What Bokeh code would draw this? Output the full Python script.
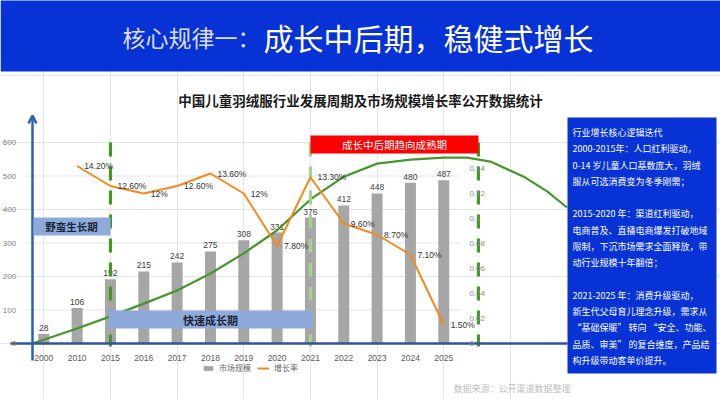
from bokeh.plotting import figure
from bokeh.models import (Range1d, LinearAxis, FixedTicker, BoxAnnotation, Label,
                          Arrow, OpenHead, Legend, LegendItem, ColumnDataSource)
from bokeh.core.properties import value
from bokeh.embed import file_html
from bokeh.resources import INLINE

# ---------------- data ----------------
years = ["2000", "2010", "2015", "2016", "2017", "2018", "2019",
         "2020", "2021", "2022", "2023", "2024", "2025"]
market_size = [28, 106, 192, 215, 242, 275, 308, 331, 376, 412, 448, 480, 487]
rate_years = years[1:]
growth_rate = [0.142, 0.126, 0.12, 0.126, 0.136, 0.12, 0.078, 0.133, 0.096, 0.087, 0.071, 0.015]
growth_labels = ["14.20%", "12.60%", "12%", "12.60%", "13.60%", "12%", "7.80%",
                 "13.30%", "9.60%", "8.70%", "7.10%", "1.50%"]
left_ticks = [0, 100, 200, 300, 400, 500, 600]
right_ticks = [0, 0.02, 0.04, 0.06, 0.08, 0.1, 0.12, 0.14]
right_tick_labels = ["0", "0.02", "0.04", "0.06", "0.08", "0.1", "0.12", "0.14"]

# decorative life-cycle trend curve (category position, value on left axis)
trend_pos = [-0.34, 1, 2, 3, 4, 5, 6, 7, 8, 9, 10, 11, 12, 12.7, 13.4, 14.4, 15.1, 15.7]
trend_val = [0, 45, 81, 119, 158, 209, 269, 338, 430, 498, 537, 549, 555, 555, 543, 498, 454, 406]

phase_names = ["野蛮生长期", "快速成长期", "成长中后期趋向成熟期"]

header_lead = "核心规律一："
header_main = "成长中后期，稳健式增长"
chart_title = "中国儿童羽绒服行业发展周期及市场规模增长率公开数据统计"
legend_labels = ["市场规模", "增长率"]
source_note = "数据来源：公开渠道数据整理"
panel_lines = [
    "行业增长核心逻辑迭代",
    "2000-2015年：人口红利驱动，",
    "0-14 岁儿童人口基数庞大，羽绒",
    "服从可选消费变为冬季刚需；",
    "",
    "2015-2020 年：渠道红利驱动，",
    "电商普及、直播电商爆发打破地域",
    "限制，下沉市场需求全面释放，带",
    "动行业规模十年翻倍；",
    "",
    "2021-2025 年：消费升级驱动，",
    "新生代父母育儿理念升级，需求从",
    "“基础保暖” 转向 “安全、功能、",
    "品质、审美” 的复合维度，产品结",
    "构升级带动客单价提升。",
]

# ---------------- geometry helpers (page pixel -> data) ----------------
W, H = 720, 399
STEP = 33.33          # px per category
CAT0 = 43.3           # page x of first category
BASE = 343.0          # page y of value 0
PXV = 0.335           # px per left-axis unit
RATE_SCALE = 1250.0 / PXV   # left units per rate unit


def dx(px):
    return (px - CAT0) / STEP


def dy(py):
    return (BASE - py) / PXV


X_START, X_END = dx(0), dx(W)
Y_START, Y_END = dy(H), dy(0)

CJK = "Noto Sans CJK SC"
NUM = "Liberation Sans"

p = figure(width=W, height=H, x_range=Range1d(X_START, X_END), y_range=Range1d(Y_START, Y_END),
           output_backend="svg", toolbar_location=None, x_axis_location=None, y_axis_location=None,
           min_border=0, outline_line_color=None, background_fill_color="white",
           border_fill_color="white")
p.extra_y_ranges = {"rate": Range1d(Y_START / RATE_SCALE, Y_END / RATE_SCALE)}

idx = list(range(len(years)))
ridx = idx[1:]

# gridlines
p.segment(x0=[-0.55] * (len(left_ticks) - 1), x1=[12.5] * (len(left_ticks) - 1),
          y0=left_ticks[1:], y1=left_ticks[1:], line_color="#e4e4e4", line_width=1)

# bars
bar_src = ColumnDataSource(dict(x=idx, top=market_size, label=[str(v) for v in market_size]))
bars = p.vbar(x="x", top="top", width=0.33, source=bar_src, fill_color="#a6a6a6", line_color=None)
p.text(x="x", y="top", text="label", source=bar_src, text_align="center", text_baseline="bottom",
       y_offset=-3, text_font=value(NUM), text_font_size="8.5px", text_color="#404040")

# trend curve
p.line(trend_pos, trend_val, line_color="#45972a", line_width=2.2)

# phase dividers
p.segment(x0=[2, 13.04], x1=[2, 13.04], y0=[600, 600], y1=[-9, -9],
          line_color="#3f9a26", line_width=3.2, line_dash="14 10")
p.segment(x0=[8], x1=[8], y0=[600], y1=[-9],
          line_color="#a6d18a", line_width=3.2, line_dash="14 10")

# growth rate line
rate_src = ColumnDataSource(dict(x=ridx, y=growth_rate, label=growth_labels))
rate_line = p.line(x="x", y="y", source=rate_src, y_range_name="rate",
                   line_color="#f28a1c", line_width=2)
p.text(x="x", y="y", text="label", source=rate_src, y_range_name="rate", x_offset=7,
       text_baseline="middle", text_font=value(NUM), text_font_size="8.5px", text_color="#333333")

# axes
x_axis = LinearAxis(fixed_location=0, ticker=FixedTicker(ticks=idx),
                    major_label_overrides={i: y for i, y in zip(idx, years)},
                    bounds=(dx(10), dx(567)), axis_line_color="#2f5597", axis_line_width=2.5,
                    major_tick_line_color=None, minor_tick_line_color=None,
                    major_label_standoff=5, major_label_text_font=NUM,
                    major_label_text_font_size="8.5px", major_label_text_color="#595959")
p.add_layout(x_axis, "below")

y_axis = LinearAxis(fixed_location=-0.5, ticker=FixedTicker(ticks=left_ticks),
                    axis_line_color=None, major_tick_line_color=None, minor_tick_line_color=None,
                    major_label_standoff=5, major_label_text_font=NUM,
                    major_label_text_font_size="8px", major_label_text_color="#808080")
p.add_layout(y_axis, "left")

r_axis = LinearAxis(fixed_location=12.5, y_range_name="rate", ticker=FixedTicker(ticks=right_ticks),
                    major_label_overrides={t: s for t, s in zip(right_ticks, right_tick_labels)},
                    axis_line_color=None, major_tick_line_color=None, minor_tick_line_color=None,
                    major_label_standoff=3, major_label_text_font=NUM,
                    major_label_text_font_size="8px", major_label_text_color="#8c8c8c")
p.add_layout(r_axis, "right")

# y axis arrow
p.add_layout(Arrow(end=OpenHead(size=8, line_color="#2f5fb0", line_width=2.5),
                   x_start=dx(32), y_start=dy(360), x_end=dx(32), y_end=dy(115),
                   line_color="#2f5fb0", line_width=2.5))

# phase boxes
p.add_layout(BoxAnnotation(left=dx(33), right=dx(110), top=dy(217), bottom=dy(235),
                           fill_color="#8eaadb", fill_alpha=1, line_color=None))
p.add_layout(BoxAnnotation(left=dx(108), right=dx(312), top=dy(310), bottom=dy(328),
                           fill_color="#8eaadb", fill_alpha=1, line_color=None))
p.add_layout(BoxAnnotation(left=dx(310), right=dx(478), top=dy(135), bottom=dy(153),
                           fill_color="#ff0000", fill_alpha=1, line_color=None))
p.add_layout(Label(x=dx(71), y=dy(226), text=phase_names[0], text_align="center",
                   text_baseline="middle", text_font=CJK, text_font_size="10.5px",
                   text_font_style="bold", text_color="#1b2638"))
p.add_layout(Label(x=dx(210), y=dy(319), text=phase_names[1], text_align="center",
                   text_baseline="middle", text_font=CJK, text_font_size="11px",
                   text_font_style="bold", text_color="#1b2638"))
p.add_layout(Label(x=dx(394), y=dy(144), text=phase_names[2], text_align="center",
                   text_baseline="middle", text_font=CJK, text_font_size="10.5px",
                   text_color="white"))

# header
p.add_layout(BoxAnnotation(left=X_START, right=X_END, top=Y_END + 50, bottom=dy(71),
                           fill_color="#0632d6", fill_alpha=1, line_color=None))
p.add_layout(Label(x=dx(122), y=dy(36), text=header_lead, text_baseline="middle",
                   text_font=CJK, text_font_size="23px", text_color="#dcdcea"))
p.add_layout(Label(x=dx(263), y=dy(36), text=header_main, text_baseline="middle",
                   text_font=CJK, text_font_size="30px", text_color="white"))

# chart title
p.add_layout(Label(x=dx(360), y=dy(99), text=chart_title, text_align="center",
                   text_baseline="middle", text_font=CJK, text_font_size="13.5px",
                   text_font_style="bold", text_color="#1a1a1a"))

# right explanation panel
p.add_layout(BoxAnnotation(left=dx(567), right=dx(716), top=dy(117), bottom=dy(373),
                           fill_color="#0632d6", fill_alpha=1, line_color=None))
panel_src = ColumnDataSource(dict(
    x=[dx(572)] * len(panel_lines),
    y=[dy(132 + k * 16.29) for k in range(len(panel_lines))],
    t=panel_lines))
p.text(x="x", y="y", text="t", source=panel_src, text_baseline="middle",
       text_font=value(CJK), text_font_size="9px", text_color="white", level="overlay")

# legend
legend = Legend(items=[LegendItem(label=legend_labels[0], renderers=[bars]),
                       LegendItem(label=legend_labels[1], renderers=[rate_line])],
                orientation="horizontal", location=(202, 26), glyph_width=12, glyph_height=6,
                label_height=10, label_standoff=5, spacing=6, padding=0, margin=0,
                border_line_color=None, background_fill_alpha=0,
                label_text_font=CJK, label_text_font_size="8px", label_text_color="#666666")
p.add_layout(legend)

# source note
p.add_layout(Label(x=dx(453), y=dy(388), text=source_note, text_baseline="middle",
                   text_font=CJK, text_font_size="9px", text_color="#c0c0c0"))

open("out.html", "w").write(file_html(p, INLINE))
